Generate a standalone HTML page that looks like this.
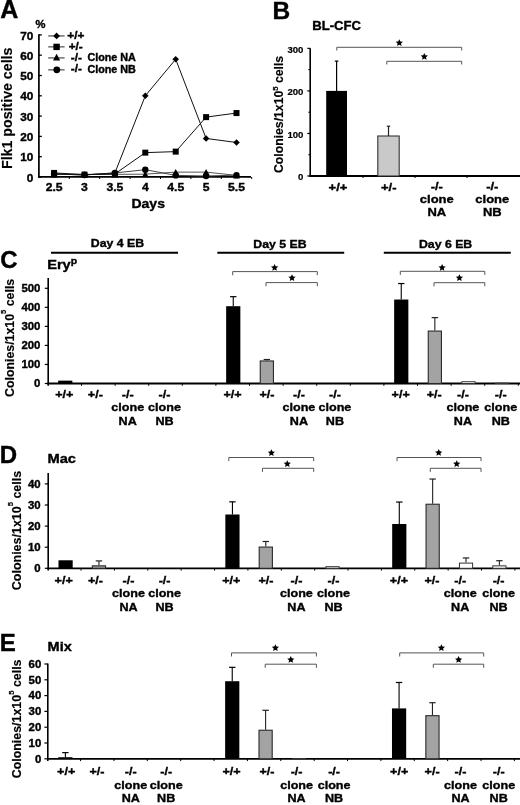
<!DOCTYPE html>
<html><head><meta charset="utf-8"><style>
html,body{margin:0;padding:0;background:#fff;width:520px;height:805px;overflow:hidden}
svg{display:block;filter:grayscale(1)}
text{font-family:"Liberation Sans", sans-serif;stroke:#000;stroke-width:0.4px}
</style></head><body>
<svg width="520" height="805" viewBox="0 0 520 805">
<rect width="520" height="805" fill="#fff"/>
<text transform="translate(0.30,18.00) scale(1.000,1.000)" font-size="25" text-anchor="start" font-weight="bold" fill="#000">A</text>
<text transform="translate(35.60,28.40) scale(1.000,0.980)" font-size="11.2" text-anchor="start" font-weight="bold" fill="#000">%</text>
<line x1="38.90" y1="34.30" x2="38.90" y2="177.80" stroke="#000" stroke-width="1.7"/>
<line x1="38.90" y1="177.00" x2="41.80" y2="177.00" stroke="#000" stroke-width="1.3"/>
<text transform="translate(33.40,181.60) scale(1.000,0.970)" font-size="11.8" text-anchor="end" font-weight="bold" fill="#000">0</text>
<line x1="38.90" y1="156.70" x2="41.80" y2="156.70" stroke="#000" stroke-width="1.3"/>
<text transform="translate(33.40,161.30) scale(1.000,0.970)" font-size="11.8" text-anchor="end" font-weight="bold" fill="#000">10</text>
<line x1="38.90" y1="136.40" x2="41.80" y2="136.40" stroke="#000" stroke-width="1.3"/>
<text transform="translate(33.40,141.00) scale(1.000,0.970)" font-size="11.8" text-anchor="end" font-weight="bold" fill="#000">20</text>
<line x1="38.90" y1="116.10" x2="41.80" y2="116.10" stroke="#000" stroke-width="1.3"/>
<text transform="translate(33.40,120.70) scale(1.000,0.970)" font-size="11.8" text-anchor="end" font-weight="bold" fill="#000">30</text>
<line x1="38.90" y1="95.80" x2="41.80" y2="95.80" stroke="#000" stroke-width="1.3"/>
<text transform="translate(33.40,100.40) scale(1.000,0.970)" font-size="11.8" text-anchor="end" font-weight="bold" fill="#000">40</text>
<line x1="38.90" y1="75.50" x2="41.80" y2="75.50" stroke="#000" stroke-width="1.3"/>
<text transform="translate(33.40,80.10) scale(1.000,0.970)" font-size="11.8" text-anchor="end" font-weight="bold" fill="#000">50</text>
<line x1="38.90" y1="55.20" x2="41.80" y2="55.20" stroke="#000" stroke-width="1.3"/>
<text transform="translate(33.40,59.80) scale(1.000,0.970)" font-size="11.8" text-anchor="end" font-weight="bold" fill="#000">60</text>
<line x1="38.90" y1="34.90" x2="41.80" y2="34.90" stroke="#000" stroke-width="1.3"/>
<text transform="translate(33.40,39.50) scale(1.000,0.970)" font-size="11.8" text-anchor="end" font-weight="bold" fill="#000">70</text>
<line x1="38.00" y1="176.90" x2="251.00" y2="176.90" stroke="#000" stroke-width="1.8"/>
<text transform="translate(54.10,190.60) scale(1.000,0.950)" font-size="12.2" text-anchor="middle" font-weight="bold" fill="#000">2.5</text>
<line x1="69.30" y1="177.00" x2="69.30" y2="179.00" stroke="#000" stroke-width="1"/>
<text transform="translate(84.50,190.60) scale(1.000,0.950)" font-size="12.2" text-anchor="middle" font-weight="bold" fill="#000">3</text>
<line x1="99.70" y1="177.00" x2="99.70" y2="179.00" stroke="#000" stroke-width="1"/>
<text transform="translate(114.90,190.60) scale(1.000,0.950)" font-size="12.2" text-anchor="middle" font-weight="bold" fill="#000">3.5</text>
<line x1="130.10" y1="177.00" x2="130.10" y2="179.00" stroke="#000" stroke-width="1"/>
<text transform="translate(145.30,190.60) scale(1.000,0.950)" font-size="12.2" text-anchor="middle" font-weight="bold" fill="#000">4</text>
<line x1="160.50" y1="177.00" x2="160.50" y2="179.00" stroke="#000" stroke-width="1"/>
<text transform="translate(175.70,190.60) scale(1.000,0.950)" font-size="12.2" text-anchor="middle" font-weight="bold" fill="#000">4.5</text>
<line x1="190.90" y1="177.00" x2="190.90" y2="179.00" stroke="#000" stroke-width="1"/>
<text transform="translate(206.10,190.60) scale(1.000,0.950)" font-size="12.2" text-anchor="middle" font-weight="bold" fill="#000">5</text>
<line x1="221.30" y1="177.00" x2="221.30" y2="179.00" stroke="#000" stroke-width="1"/>
<text transform="translate(236.50,190.60) scale(1.000,0.950)" font-size="12.2" text-anchor="middle" font-weight="bold" fill="#000">5.5</text>
<line x1="251.70" y1="177.00" x2="251.70" y2="179.00" stroke="#000" stroke-width="1"/>
<text transform="translate(148.20,208.20) scale(1.000,0.930)" font-size="14.0" text-anchor="middle" font-weight="bold" fill="#000">Days</text>
<text transform="translate(12.20,108.30) rotate(-90) scale(1.000,1.000)" font-size="14.2" text-anchor="middle" font-weight="bold" style="stroke-width:0.15px">Flk1 positive cells</text>
<polyline points="54.10,174.36 84.50,174.36 114.90,174.36 145.30,174.16 175.70,172.13 206.10,172.13 236.50,175.38" fill="none" stroke="#555" stroke-width="1"/>
<polyline points="54.10,173.96 84.50,174.97 114.90,172.94 145.30,169.69 175.70,175.38 206.10,175.99 236.50,175.17" fill="none" stroke="#444" stroke-width="1"/>
<polyline points="54.10,172.94 84.50,174.56 114.90,173.96 145.30,152.64 175.70,151.62 206.10,117.12 236.50,113.06" fill="none" stroke="#111" stroke-width="1"/>
<polyline points="54.10,173.96 84.50,174.97 114.90,172.94 145.30,95.80 175.70,59.26 206.10,138.43 236.50,142.49" fill="none" stroke="#111" stroke-width="1"/>
<polygon points="54.1,171.261 57.5,177.551 50.7,177.551" fill="#000"/>
<polygon points="84.5,171.261 87.9,177.551 81.1,177.551" fill="#000"/>
<polygon points="114.9,171.261 118.30000000000001,177.551 111.5,177.551" fill="#000"/>
<polygon points="145.29999999999998,171.058 148.7,177.34799999999998 141.89999999999998,177.34799999999998" fill="#000"/>
<polygon points="175.7,169.02800000000002 179.1,175.318 172.29999999999998,175.318" fill="#000"/>
<polygon points="206.1,169.02800000000002 209.5,175.318 202.7,175.318" fill="#000"/>
<polygon points="236.49999999999997,172.276 239.89999999999998,178.566 233.09999999999997,178.566" fill="#000"/>
<circle cx="54.1" cy="173.955" r="3.2" fill="#000"/>
<circle cx="84.5" cy="174.97" r="3.2" fill="#000"/>
<circle cx="114.9" cy="172.94" r="3.2" fill="#000"/>
<circle cx="145.29999999999998" cy="169.692" r="3.2" fill="#000"/>
<circle cx="175.7" cy="175.376" r="3.2" fill="#000"/>
<circle cx="206.1" cy="175.985" r="3.2" fill="#000"/>
<circle cx="236.49999999999997" cy="175.173" r="3.2" fill="#000"/>
<rect x="51.10" y="169.94" width="6.00" height="6.00" fill="#000"/>
<rect x="81.50" y="171.56" width="6.00" height="6.00" fill="#000"/>
<rect x="111.90" y="170.96" width="6.00" height="6.00" fill="#000"/>
<rect x="142.30" y="149.64" width="6.00" height="6.00" fill="#000"/>
<rect x="172.70" y="148.62" width="6.00" height="6.00" fill="#000"/>
<rect x="203.10" y="114.12" width="6.00" height="6.00" fill="#000"/>
<rect x="233.50" y="110.06" width="6.00" height="6.00" fill="#000"/>
<polygon points="54.1,170.655 57.4,173.955 54.1,177.25500000000002 50.800000000000004,173.955" fill="#000"/>
<polygon points="84.5,171.67 87.8,174.97 84.5,178.27 81.2,174.97" fill="#000"/>
<polygon points="114.9,169.64 118.2,172.94 114.9,176.24 111.60000000000001,172.94" fill="#000"/>
<polygon points="145.29999999999998,92.50000000000001 148.6,95.80000000000001 145.29999999999998,99.10000000000001 141.99999999999997,95.80000000000001" fill="#000"/>
<polygon points="175.7,55.96000000000001 179.0,59.260000000000005 175.7,62.56 172.39999999999998,59.260000000000005" fill="#000"/>
<polygon points="206.1,135.13 209.4,138.43 206.1,141.73000000000002 202.79999999999998,138.43" fill="#000"/>
<polygon points="236.49999999999997,139.19 239.79999999999998,142.49 236.49999999999997,145.79000000000002 233.19999999999996,142.49" fill="#000"/>
<line x1="48.20" y1="35.90" x2="64.60" y2="35.90" stroke="#777" stroke-width="1.6"/>
<line x1="48.20" y1="46.80" x2="64.60" y2="46.80" stroke="#777" stroke-width="1.6"/>
<line x1="48.20" y1="57.90" x2="64.60" y2="57.90" stroke="#777" stroke-width="1.6"/>
<line x1="48.20" y1="69.80" x2="64.60" y2="69.80" stroke="#777" stroke-width="1.6"/>
<polygon points="56.6,32.5 60.0,35.9 56.6,39.3 53.2,35.9" fill="#000"/>
<rect x="53.40" y="43.70" width="6.40" height="6.40" fill="#000"/>
<polygon points="56.6,53.8 60.2,60.46 53.0,60.46" fill="#000"/>
<circle cx="56.8" cy="69.8" r="3.4" fill="#000"/>
<text transform="translate(67.30,38.70) scale(1.000,0.950)" font-size="11.8" text-anchor="start" font-weight="bold" fill="#000">+/+</text>
<text transform="translate(68.70,49.60) scale(1.000,0.950)" font-size="11.8" text-anchor="start" font-weight="bold" fill="#000">+/-</text>
<text transform="translate(70.80,61.00) scale(1.000,0.950)" font-size="11.8" text-anchor="start" font-weight="bold" fill="#000">-/-</text>
<text transform="translate(70.80,72.20) scale(1.000,0.950)" font-size="11.8" text-anchor="start" font-weight="bold" fill="#000">-/-</text>
<text transform="translate(87.40,60.70) scale(1.000,0.930)" font-size="10.8" text-anchor="start" font-weight="bold" fill="#000">Clone NA</text>
<text transform="translate(87.40,72.50) scale(1.000,0.930)" font-size="10.8" text-anchor="start" font-weight="bold" fill="#000">Clone NB</text>
<text transform="translate(272.60,18.60) scale(1.000,1.000)" font-size="24.5" text-anchor="start" font-weight="bold" fill="#000">B</text>
<text transform="translate(312.20,29.60) scale(1.000,0.980)" font-size="13.1" text-anchor="start" font-weight="bold" fill="#000">BL-CFC</text>
<line x1="310.20" y1="48.20" x2="310.20" y2="176.80" stroke="#000" stroke-width="1.6"/>
<line x1="307.30" y1="176.00" x2="310.20" y2="176.00" stroke="#000" stroke-width="1.2"/>
<text transform="translate(303.40,180.40) scale(1.000,0.970)" font-size="9.6" text-anchor="end" font-weight="bold" fill="#000" style="stroke-width:0.2px">0</text>
<line x1="307.30" y1="133.45" x2="310.20" y2="133.45" stroke="#000" stroke-width="1.2"/>
<text transform="translate(303.40,137.85) scale(1.000,0.970)" font-size="9.6" text-anchor="end" font-weight="bold" fill="#000" style="stroke-width:0.2px">100</text>
<line x1="307.30" y1="90.90" x2="310.20" y2="90.90" stroke="#000" stroke-width="1.2"/>
<text transform="translate(303.40,95.30) scale(1.000,0.970)" font-size="9.6" text-anchor="end" font-weight="bold" fill="#000" style="stroke-width:0.2px">200</text>
<line x1="307.30" y1="48.35" x2="310.20" y2="48.35" stroke="#000" stroke-width="1.2"/>
<text transform="translate(303.40,52.75) scale(1.000,0.970)" font-size="9.6" text-anchor="end" font-weight="bold" fill="#000" style="stroke-width:0.2px">300</text>
<line x1="308.30" y1="154.72" x2="310.20" y2="154.72" stroke="#000" stroke-width="1.0"/>
<line x1="308.30" y1="112.18" x2="310.20" y2="112.18" stroke="#000" stroke-width="1.0"/>
<line x1="308.30" y1="69.62" x2="310.20" y2="69.62" stroke="#000" stroke-width="1.0"/>
<line x1="309.50" y1="176.00" x2="520.00" y2="176.00" stroke="#000" stroke-width="1.8"/>
<line x1="363.00" y1="176.00" x2="363.00" y2="178.00" stroke="#000" stroke-width="1"/>
<line x1="415.00" y1="176.00" x2="415.00" y2="178.00" stroke="#000" stroke-width="1"/>
<line x1="467.00" y1="176.00" x2="467.00" y2="178.00" stroke="#000" stroke-width="1"/>
<rect x="326.20" y="90.90" width="20.80" height="85.10" fill="#000"/>
<line x1="336.60" y1="61.12" x2="336.60" y2="90.90" stroke="#000" stroke-width="1.2"/>
<line x1="334.80" y1="61.12" x2="338.40" y2="61.12" stroke="#000" stroke-width="1.2"/>
<rect x="377.80" y="136.00" width="21.40" height="40.00" fill="#c9c9c9" stroke="#333" stroke-width="1.1"/>
<line x1="388.50" y1="126.22" x2="388.50" y2="136.00" stroke="#222" stroke-width="1.2"/>
<line x1="386.80" y1="126.22" x2="390.20" y2="126.22" stroke="#222" stroke-width="1.2"/>
<path d="M336.80,50.50 V47.30 H461.70 V50.50" fill="none" stroke="#555" stroke-width="1"/>
<path d="M386.80,64.50 V61.30 H461.70 V64.50" fill="none" stroke="#555" stroke-width="1"/>
<polygon points="399.30,39.20 400.37,41.52 402.91,41.83 401.03,43.56 401.53,46.07 399.30,44.82 397.07,46.07 397.57,43.56 395.69,41.83 398.23,41.52" fill="#000"/>
<polygon points="424.30,52.90 425.37,55.22 427.91,55.53 426.03,57.26 426.53,59.77 424.30,58.52 422.07,59.77 422.57,57.26 420.69,55.53 423.23,55.22" fill="#000"/>
<text transform="translate(338.00,190.80) scale(1.000,0.880)" font-size="13.0" text-anchor="middle" font-weight="bold" fill="#000">+/+</text>
<text transform="translate(388.80,190.80) scale(1.000,0.880)" font-size="13.0" text-anchor="middle" font-weight="bold" fill="#000">+/-</text>
<text transform="translate(436.80,190.30) scale(1.000,0.880)" font-size="13.0" text-anchor="middle" font-weight="bold" fill="#000">-/-</text>
<text transform="translate(436.80,203.00) scale(1.000,0.880)" font-size="13.0" text-anchor="middle" font-weight="bold" fill="#000">clone</text>
<text transform="translate(436.80,215.70) scale(1.000,0.880)" font-size="13.0" text-anchor="middle" font-weight="bold" fill="#000">NA</text>
<text transform="translate(492.30,190.30) scale(1.000,0.880)" font-size="13.0" text-anchor="middle" font-weight="bold" fill="#000">-/-</text>
<text transform="translate(492.30,203.00) scale(1.000,0.880)" font-size="13.0" text-anchor="middle" font-weight="bold" fill="#000">clone</text>
<text transform="translate(492.30,215.70) scale(1.000,0.880)" font-size="13.0" text-anchor="middle" font-weight="bold" fill="#000">NB</text>
<text transform="translate(282.60,114.40) rotate(-90) scale(1.020,1.000)" font-size="12.0" text-anchor="middle" font-weight="bold" style="stroke-width:0.15px">Colonies/1x10<tspan dy="-4.4" font-size="7.6" style="stroke-width:0.2px">5</tspan><tspan dy="4.4"> cells</tspan></text>
<line x1="51.00" y1="252.80" x2="178.00" y2="252.80" stroke="#000" stroke-width="2.0"/>
<line x1="217.30" y1="252.80" x2="344.20" y2="252.80" stroke="#000" stroke-width="2.0"/>
<line x1="383.80" y1="252.80" x2="510.80" y2="252.80" stroke="#000" stroke-width="2.0"/>
<text transform="translate(117.50,247.40) scale(1.000,0.840)" font-size="12.3" text-anchor="middle" font-weight="bold" fill="#000">Day 4 EB</text>
<text transform="translate(280.00,247.90) scale(1.000,0.840)" font-size="12.3" text-anchor="middle" font-weight="bold" fill="#000">Day 5 EB</text>
<text transform="translate(445.60,247.50) scale(1.000,0.840)" font-size="12.3" text-anchor="middle" font-weight="bold" fill="#000">Day 6 EB</text>
<text transform="translate(47.20,269.00) scale(1.000,0.900)" font-size="14.6" text-anchor="start" font-weight="bold" fill="#000">Ery<tspan dy="-5.2" font-size="10.5">p</tspan></text>
<text transform="translate(0.30,268.20) scale(1.000,1.000)" font-size="24" text-anchor="start" font-weight="bold" fill="#000">C</text>

<line x1="48.20" y1="278.00" x2="48.20" y2="385.70" stroke="#000" stroke-width="1.6"/>
<line x1="44.80" y1="383.50" x2="48.20" y2="383.50" stroke="#000" stroke-width="1.2"/>
<text transform="translate(40.40,387.30) scale(1.000,0.930)" font-size="11.4" text-anchor="end" font-weight="bold" fill="#000">0</text>
<line x1="44.80" y1="364.46" x2="48.20" y2="364.46" stroke="#000" stroke-width="1.2"/>
<text transform="translate(40.40,368.26) scale(1.000,0.930)" font-size="11.4" text-anchor="end" font-weight="bold" fill="#000">100</text>
<line x1="44.80" y1="345.42" x2="48.20" y2="345.42" stroke="#000" stroke-width="1.2"/>
<text transform="translate(40.40,349.22) scale(1.000,0.930)" font-size="11.4" text-anchor="end" font-weight="bold" fill="#000">200</text>
<line x1="44.80" y1="326.38" x2="48.20" y2="326.38" stroke="#000" stroke-width="1.2"/>
<text transform="translate(40.40,330.18) scale(1.000,0.930)" font-size="11.4" text-anchor="end" font-weight="bold" fill="#000">300</text>
<line x1="44.80" y1="307.34" x2="48.20" y2="307.34" stroke="#000" stroke-width="1.2"/>
<text transform="translate(40.40,311.14) scale(1.000,0.930)" font-size="11.4" text-anchor="end" font-weight="bold" fill="#000">400</text>
<line x1="44.80" y1="288.30" x2="48.20" y2="288.30" stroke="#000" stroke-width="1.2"/>
<text transform="translate(40.40,292.10) scale(1.000,0.930)" font-size="11.4" text-anchor="end" font-weight="bold" fill="#000">500</text>
<line x1="47.40" y1="383.50" x2="520.00" y2="383.50" stroke="#000" stroke-width="1.8"/>
<line x1="81.50" y1="383.50" x2="81.50" y2="385.80" stroke="#000" stroke-width="1"/>
<line x1="115.10" y1="383.50" x2="115.10" y2="385.80" stroke="#000" stroke-width="1"/>
<line x1="148.70" y1="383.50" x2="148.70" y2="385.80" stroke="#000" stroke-width="1"/>
<line x1="182.30" y1="383.50" x2="182.30" y2="385.80" stroke="#000" stroke-width="1"/>
<line x1="215.90" y1="383.50" x2="215.90" y2="385.80" stroke="#000" stroke-width="1"/>
<line x1="249.50" y1="383.50" x2="249.50" y2="385.80" stroke="#000" stroke-width="1"/>
<line x1="283.10" y1="383.50" x2="283.10" y2="385.80" stroke="#000" stroke-width="1"/>
<line x1="316.70" y1="383.50" x2="316.70" y2="385.80" stroke="#000" stroke-width="1"/>
<line x1="350.30" y1="383.50" x2="350.30" y2="385.80" stroke="#000" stroke-width="1"/>
<line x1="383.90" y1="383.50" x2="383.90" y2="385.80" stroke="#000" stroke-width="1"/>
<line x1="417.50" y1="383.50" x2="417.50" y2="385.80" stroke="#000" stroke-width="1"/>
<line x1="451.10" y1="383.50" x2="451.10" y2="385.80" stroke="#000" stroke-width="1"/>
<line x1="484.70" y1="383.50" x2="484.70" y2="385.80" stroke="#000" stroke-width="1"/>
<line x1="518.30" y1="383.50" x2="518.30" y2="385.80" stroke="#000" stroke-width="1"/>
<rect x="58.15" y="380.64" width="14.20" height="2.86" fill="#000"/>
<line x1="233.25" y1="296.68" x2="233.25" y2="306.20" stroke="#000" stroke-width="1.1"/>
<line x1="230.05" y1="296.68" x2="236.45" y2="296.68" stroke="#000" stroke-width="1.2"/>
<rect x="226.15" y="306.20" width="14.20" height="77.30" fill="#000"/>
<line x1="266.85" y1="359.51" x2="266.85" y2="360.46" stroke="#222" stroke-width="1.1"/>
<line x1="263.65" y1="359.51" x2="270.05" y2="359.51" stroke="#222" stroke-width="1.2"/>
<rect x="260.25" y="360.96" width="13.20" height="22.54" fill="#a3a3a3" stroke="#2a2a2a" stroke-width="1.1"/>
<line x1="401.25" y1="283.54" x2="401.25" y2="299.53" stroke="#000" stroke-width="1.1"/>
<line x1="398.05" y1="283.54" x2="404.45" y2="283.54" stroke="#000" stroke-width="1.2"/>
<rect x="394.15" y="299.53" width="14.20" height="83.97" fill="#000"/>
<line x1="434.85" y1="317.62" x2="434.85" y2="330.57" stroke="#222" stroke-width="1.1"/>
<line x1="431.65" y1="317.62" x2="438.05" y2="317.62" stroke="#222" stroke-width="1.2"/>
<rect x="428.25" y="331.07" width="13.20" height="52.43" fill="#a3a3a3" stroke="#2a2a2a" stroke-width="1.1"/>
<rect x="461.85" y="381.72" width="13.20" height="1.78" fill="#fff" stroke="#333" stroke-width="1.0"/>
<rect x="495.45" y="383.24" width="13.20" height="0.26" fill="#fff" stroke="#333" stroke-width="1.0"/>
<path d="M232.70,275.20 V271.60 H317.30 V275.20" fill="none" stroke="#555" stroke-width="1"/>
<path d="M266.00,286.20 V282.60 H317.30 V286.20" fill="none" stroke="#555" stroke-width="1"/>
<path d="M400.30,274.90 V271.30 H484.80 V274.90" fill="none" stroke="#555" stroke-width="1"/>
<path d="M434.00,286.30 V282.70 H484.80 V286.30" fill="none" stroke="#555" stroke-width="1"/>
<polygon points="274.60,263.90 275.67,266.22 278.21,266.53 276.33,268.26 276.83,270.77 274.60,269.52 272.37,270.77 272.87,268.26 270.99,266.53 273.53,266.22" fill="#000"/>
<polygon points="292.00,274.20 293.07,276.52 295.61,276.83 293.73,278.56 294.23,281.07 292.00,279.82 289.77,281.07 290.27,278.56 288.39,276.83 290.93,276.52" fill="#000"/>
<polygon points="442.10,263.90 443.17,266.22 445.71,266.53 443.83,268.26 444.33,270.77 442.10,269.52 439.87,270.77 440.37,268.26 438.49,266.53 441.03,266.22" fill="#000"/>
<polygon points="459.40,274.20 460.47,276.52 463.01,276.83 461.13,278.56 461.63,281.07 459.40,279.82 457.17,281.07 457.67,278.56 455.79,276.83 458.33,276.52" fill="#000"/>
<text transform="translate(64.30,397.80) scale(1.000,0.880)" font-size="12.6" text-anchor="middle" font-weight="bold" fill="#000">+/+</text>
<text transform="translate(95.30,397.80) scale(1.000,0.880)" font-size="12.6" text-anchor="middle" font-weight="bold" fill="#000">+/-</text>
<text transform="translate(127.70,397.80) scale(1.000,0.880)" font-size="12.6" text-anchor="middle" font-weight="bold" fill="#000">-/-</text>
<text transform="translate(127.70,411.40) scale(1.000,0.880)" font-size="12.6" text-anchor="middle" font-weight="bold" fill="#000">clone</text>
<text transform="translate(127.70,425.00) scale(1.000,0.880)" font-size="12.6" text-anchor="middle" font-weight="bold" fill="#000">NA</text>
<text transform="translate(164.50,397.80) scale(1.000,0.880)" font-size="12.6" text-anchor="middle" font-weight="bold" fill="#000">-/-</text>
<text transform="translate(164.50,411.40) scale(1.000,0.880)" font-size="12.6" text-anchor="middle" font-weight="bold" fill="#000">clone</text>
<text transform="translate(164.50,425.00) scale(1.000,0.880)" font-size="12.6" text-anchor="middle" font-weight="bold" fill="#000">NB</text>
<text transform="translate(232.50,397.80) scale(1.000,0.880)" font-size="12.6" text-anchor="middle" font-weight="bold" fill="#000">+/+</text>
<text transform="translate(267.00,397.80) scale(1.000,0.880)" font-size="12.6" text-anchor="middle" font-weight="bold" fill="#000">+/-</text>
<text transform="translate(298.90,397.80) scale(1.000,0.880)" font-size="12.6" text-anchor="middle" font-weight="bold" fill="#000">-/-</text>
<text transform="translate(298.90,411.40) scale(1.000,0.880)" font-size="12.6" text-anchor="middle" font-weight="bold" fill="#000">clone</text>
<text transform="translate(298.90,425.00) scale(1.000,0.880)" font-size="12.6" text-anchor="middle" font-weight="bold" fill="#000">NA</text>
<text transform="translate(334.90,397.80) scale(1.000,0.880)" font-size="12.6" text-anchor="middle" font-weight="bold" fill="#000">-/-</text>
<text transform="translate(334.90,411.40) scale(1.000,0.880)" font-size="12.6" text-anchor="middle" font-weight="bold" fill="#000">clone</text>
<text transform="translate(334.90,425.00) scale(1.000,0.880)" font-size="12.6" text-anchor="middle" font-weight="bold" fill="#000">NB</text>
<text transform="translate(400.70,397.80) scale(1.000,0.880)" font-size="12.6" text-anchor="middle" font-weight="bold" fill="#000">+/+</text>
<text transform="translate(434.20,397.80) scale(1.000,0.880)" font-size="12.6" text-anchor="middle" font-weight="bold" fill="#000">+/-</text>
<text transform="translate(462.90,397.80) scale(1.000,0.880)" font-size="12.6" text-anchor="middle" font-weight="bold" fill="#000">-/-</text>
<text transform="translate(462.90,411.40) scale(1.000,0.880)" font-size="12.6" text-anchor="middle" font-weight="bold" fill="#000">clone</text>
<text transform="translate(462.90,425.00) scale(1.000,0.880)" font-size="12.6" text-anchor="middle" font-weight="bold" fill="#000">NA</text>
<text transform="translate(500.80,397.80) scale(1.000,0.880)" font-size="12.6" text-anchor="middle" font-weight="bold" fill="#000">-/-</text>
<text transform="translate(500.80,411.40) scale(1.000,0.880)" font-size="12.6" text-anchor="middle" font-weight="bold" fill="#000">clone</text>
<text transform="translate(500.80,425.00) scale(1.000,0.880)" font-size="12.6" text-anchor="middle" font-weight="bold" fill="#000">NB</text>
<text transform="translate(13.80,337.90) rotate(-90) scale(1.030,1.000)" font-size="12.0" text-anchor="middle" font-weight="bold" style="stroke-width:0.15px">Colonies/1x10<tspan dy="-7.6" font-size="7.4" style="stroke-width:0.2px">5</tspan><tspan dy="7.6"> cells</tspan></text>
<text transform="translate(47.40,463.30) scale(1.000,0.920)" font-size="14.7" text-anchor="start" font-weight="bold" fill="#000">Mac</text>
<text transform="translate(-0.30,463.20) scale(1.000,1.000)" font-size="24" text-anchor="start" font-weight="bold" fill="#000">D</text>

<line x1="48.20" y1="472.90" x2="48.20" y2="570.50" stroke="#000" stroke-width="1.6"/>
<line x1="44.80" y1="568.30" x2="48.20" y2="568.30" stroke="#000" stroke-width="1.2"/>
<text transform="translate(40.60,572.10) scale(1.000,0.930)" font-size="11.4" text-anchor="end" font-weight="bold" fill="#000">0</text>
<line x1="44.80" y1="547.20" x2="48.20" y2="547.20" stroke="#000" stroke-width="1.2"/>
<text transform="translate(40.60,551.00) scale(1.000,0.930)" font-size="11.4" text-anchor="end" font-weight="bold" fill="#000">10</text>
<line x1="44.80" y1="526.10" x2="48.20" y2="526.10" stroke="#000" stroke-width="1.2"/>
<text transform="translate(40.60,529.90) scale(1.000,0.930)" font-size="11.4" text-anchor="end" font-weight="bold" fill="#000">20</text>
<line x1="44.80" y1="505.00" x2="48.20" y2="505.00" stroke="#000" stroke-width="1.2"/>
<text transform="translate(40.60,508.80) scale(1.000,0.930)" font-size="11.4" text-anchor="end" font-weight="bold" fill="#000">30</text>
<line x1="44.80" y1="483.90" x2="48.20" y2="483.90" stroke="#000" stroke-width="1.2"/>
<text transform="translate(40.60,487.70) scale(1.000,0.930)" font-size="11.4" text-anchor="end" font-weight="bold" fill="#000">40</text>
<line x1="47.40" y1="568.30" x2="520.00" y2="568.30" stroke="#000" stroke-width="1.8"/>
<line x1="81.07" y1="568.30" x2="81.07" y2="570.60" stroke="#000" stroke-width="1"/>
<line x1="114.44" y1="568.30" x2="114.44" y2="570.60" stroke="#000" stroke-width="1"/>
<line x1="147.81" y1="568.30" x2="147.81" y2="570.60" stroke="#000" stroke-width="1"/>
<line x1="181.18" y1="568.30" x2="181.18" y2="570.60" stroke="#000" stroke-width="1"/>
<line x1="214.55" y1="568.30" x2="214.55" y2="570.60" stroke="#000" stroke-width="1"/>
<line x1="247.92" y1="568.30" x2="247.92" y2="570.60" stroke="#000" stroke-width="1"/>
<line x1="281.29" y1="568.30" x2="281.29" y2="570.60" stroke="#000" stroke-width="1"/>
<line x1="314.66" y1="568.30" x2="314.66" y2="570.60" stroke="#000" stroke-width="1"/>
<line x1="348.03" y1="568.30" x2="348.03" y2="570.60" stroke="#000" stroke-width="1"/>
<line x1="381.40" y1="568.30" x2="381.40" y2="570.60" stroke="#000" stroke-width="1"/>
<line x1="414.77" y1="568.30" x2="414.77" y2="570.60" stroke="#000" stroke-width="1"/>
<line x1="448.14" y1="568.30" x2="448.14" y2="570.60" stroke="#000" stroke-width="1"/>
<line x1="481.51" y1="568.30" x2="481.51" y2="570.60" stroke="#000" stroke-width="1"/>
<line x1="514.88" y1="568.30" x2="514.88" y2="570.60" stroke="#000" stroke-width="1"/>
<rect x="58.49" y="560.28" width="14.20" height="8.02" fill="#000"/>
<line x1="98.95" y1="560.91" x2="98.95" y2="565.35" stroke="#222" stroke-width="1.1"/>
<line x1="95.75" y1="560.91" x2="102.16" y2="560.91" stroke="#222" stroke-width="1.2"/>
<rect x="92.36" y="565.85" width="13.20" height="2.45" fill="#a3a3a3" stroke="#2a2a2a" stroke-width="1.1"/>
<line x1="232.44" y1="501.83" x2="232.44" y2="514.50" stroke="#000" stroke-width="1.1"/>
<line x1="229.24" y1="501.83" x2="235.63" y2="501.83" stroke="#000" stroke-width="1.2"/>
<rect x="225.34" y="514.50" width="14.20" height="53.80" fill="#000"/>
<line x1="265.80" y1="541.50" x2="265.80" y2="546.57" stroke="#222" stroke-width="1.1"/>
<line x1="262.60" y1="541.50" x2="269.00" y2="541.50" stroke="#222" stroke-width="1.2"/>
<rect x="259.20" y="547.07" width="13.20" height="21.23" fill="#a3a3a3" stroke="#2a2a2a" stroke-width="1.1"/>
<rect x="325.94" y="566.69" width="13.20" height="1.61" fill="#fff" stroke="#333" stroke-width="1.0"/>
<line x1="399.28" y1="502.05" x2="399.28" y2="523.99" stroke="#000" stroke-width="1.1"/>
<line x1="396.08" y1="502.05" x2="402.48" y2="502.05" stroke="#000" stroke-width="1.2"/>
<rect x="392.18" y="523.99" width="14.20" height="44.31" fill="#000"/>
<line x1="432.65" y1="479.05" x2="432.65" y2="503.73" stroke="#222" stroke-width="1.1"/>
<line x1="429.45" y1="479.05" x2="435.85" y2="479.05" stroke="#222" stroke-width="1.2"/>
<rect x="426.05" y="504.23" width="13.20" height="64.07" fill="#a3a3a3" stroke="#2a2a2a" stroke-width="1.1"/>
<line x1="466.02" y1="557.96" x2="466.02" y2="562.60" stroke="#222" stroke-width="1.1"/>
<line x1="462.82" y1="557.96" x2="469.22" y2="557.96" stroke="#222" stroke-width="1.2"/>
<rect x="459.42" y="563.10" width="13.20" height="5.20" fill="#fff" stroke="#333" stroke-width="1.0"/>
<line x1="499.39" y1="560.70" x2="499.39" y2="565.35" stroke="#222" stroke-width="1.1"/>
<line x1="496.19" y1="560.70" x2="502.59" y2="560.70" stroke="#222" stroke-width="1.2"/>
<rect x="492.79" y="565.85" width="13.20" height="2.45" fill="#fff" stroke="#333" stroke-width="1.0"/>
<path d="M228.80,461.10 V457.50 H313.70 V461.10" fill="none" stroke="#555" stroke-width="1"/>
<path d="M262.50,471.90 V468.30 H313.70 V471.90" fill="none" stroke="#555" stroke-width="1"/>
<path d="M397.00,461.10 V457.50 H481.00 V461.10" fill="none" stroke="#555" stroke-width="1"/>
<path d="M430.30,471.90 V468.30 H481.00 V471.90" fill="none" stroke="#555" stroke-width="1"/>
<polygon points="271.40,449.20 272.47,451.52 275.01,451.83 273.13,453.56 273.63,456.07 271.40,454.82 269.17,456.07 269.67,453.56 267.79,451.83 270.33,451.52" fill="#000"/>
<polygon points="287.30,460.20 288.37,462.52 290.91,462.83 289.03,464.56 289.53,467.07 287.30,465.82 285.07,467.07 285.57,464.56 283.69,462.83 286.23,462.52" fill="#000"/>
<polygon points="438.70,449.00 439.77,451.32 442.31,451.63 440.43,453.36 440.93,455.87 438.70,454.62 436.47,455.87 436.97,453.36 435.09,451.63 437.63,451.32" fill="#000"/>
<polygon points="456.70,460.20 457.77,462.52 460.31,462.83 458.43,464.56 458.93,467.07 456.70,465.82 454.47,467.07 454.97,464.56 453.09,462.83 455.63,462.52" fill="#000"/>
<text transform="translate(63.70,583.90) scale(1.000,0.880)" font-size="12.6" text-anchor="middle" font-weight="bold" fill="#000">+/+</text>
<text transform="translate(95.40,583.90) scale(1.000,0.880)" font-size="12.6" text-anchor="middle" font-weight="bold" fill="#000">+/-</text>
<text transform="translate(128.50,583.90) scale(1.000,0.880)" font-size="12.6" text-anchor="middle" font-weight="bold" fill="#000">-/-</text>
<text transform="translate(128.50,597.40) scale(1.000,0.880)" font-size="12.6" text-anchor="middle" font-weight="bold" fill="#000">clone</text>
<text transform="translate(128.50,610.90) scale(1.000,0.880)" font-size="12.6" text-anchor="middle" font-weight="bold" fill="#000">NA</text>
<text transform="translate(164.60,583.90) scale(1.000,0.880)" font-size="12.6" text-anchor="middle" font-weight="bold" fill="#000">-/-</text>
<text transform="translate(164.60,597.40) scale(1.000,0.880)" font-size="12.6" text-anchor="middle" font-weight="bold" fill="#000">clone</text>
<text transform="translate(164.60,610.90) scale(1.000,0.880)" font-size="12.6" text-anchor="middle" font-weight="bold" fill="#000">NB</text>
<text transform="translate(231.30,583.90) scale(1.000,0.880)" font-size="12.6" text-anchor="middle" font-weight="bold" fill="#000">+/+</text>
<text transform="translate(265.90,583.90) scale(1.000,0.880)" font-size="12.6" text-anchor="middle" font-weight="bold" fill="#000">+/-</text>
<text transform="translate(296.40,583.90) scale(1.000,0.880)" font-size="12.6" text-anchor="middle" font-weight="bold" fill="#000">-/-</text>
<text transform="translate(296.40,597.40) scale(1.000,0.880)" font-size="12.6" text-anchor="middle" font-weight="bold" fill="#000">clone</text>
<text transform="translate(296.40,610.90) scale(1.000,0.880)" font-size="12.6" text-anchor="middle" font-weight="bold" fill="#000">NA</text>
<text transform="translate(333.50,583.90) scale(1.000,0.880)" font-size="12.6" text-anchor="middle" font-weight="bold" fill="#000">-/-</text>
<text transform="translate(333.50,597.40) scale(1.000,0.880)" font-size="12.6" text-anchor="middle" font-weight="bold" fill="#000">clone</text>
<text transform="translate(333.50,610.90) scale(1.000,0.880)" font-size="12.6" text-anchor="middle" font-weight="bold" fill="#000">NB</text>
<text transform="translate(398.90,583.90) scale(1.000,0.880)" font-size="12.6" text-anchor="middle" font-weight="bold" fill="#000">+/+</text>
<text transform="translate(431.90,583.90) scale(1.000,0.880)" font-size="12.6" text-anchor="middle" font-weight="bold" fill="#000">+/-</text>
<text transform="translate(460.20,583.90) scale(1.000,0.880)" font-size="12.6" text-anchor="middle" font-weight="bold" fill="#000">-/-</text>
<text transform="translate(460.20,597.40) scale(1.000,0.880)" font-size="12.6" text-anchor="middle" font-weight="bold" fill="#000">clone</text>
<text transform="translate(460.20,610.90) scale(1.000,0.880)" font-size="12.6" text-anchor="middle" font-weight="bold" fill="#000">NA</text>
<text transform="translate(498.60,583.90) scale(1.000,0.880)" font-size="12.6" text-anchor="middle" font-weight="bold" fill="#000">-/-</text>
<text transform="translate(498.60,597.40) scale(1.000,0.880)" font-size="12.6" text-anchor="middle" font-weight="bold" fill="#000">clone</text>
<text transform="translate(498.60,610.90) scale(1.000,0.880)" font-size="12.6" text-anchor="middle" font-weight="bold" fill="#000">NB</text>
<text transform="translate(21.00,530.50) rotate(-90) scale(1.040,1.000)" font-size="12.0" text-anchor="middle" font-weight="bold" style="stroke-width:0.15px">Colonies/1x10<tspan dy="-7.6" font-size="7.4" style="stroke-width:0.2px">5</tspan><tspan dy="7.6"> cells</tspan></text>
<text transform="translate(47.60,651.40) scale(1.000,0.920)" font-size="14.5" text-anchor="start" font-weight="bold" fill="#000">Mix</text>
<text transform="translate(-0.30,650.90) scale(1.000,1.000)" font-size="24" text-anchor="start" font-weight="bold" fill="#000">E</text>

<line x1="47.80" y1="663.40" x2="47.80" y2="761.00" stroke="#000" stroke-width="1.6"/>
<line x1="44.40" y1="758.80" x2="47.80" y2="758.80" stroke="#000" stroke-width="1.2"/>
<text transform="translate(41.30,762.60) scale(1.000,0.930)" font-size="11.4" text-anchor="end" font-weight="bold" fill="#000">0</text>
<line x1="44.40" y1="743.00" x2="47.80" y2="743.00" stroke="#000" stroke-width="1.2"/>
<text transform="translate(41.30,746.80) scale(1.000,0.930)" font-size="11.4" text-anchor="end" font-weight="bold" fill="#000">10</text>
<line x1="44.40" y1="727.20" x2="47.80" y2="727.20" stroke="#000" stroke-width="1.2"/>
<text transform="translate(41.30,731.00) scale(1.000,0.930)" font-size="11.4" text-anchor="end" font-weight="bold" fill="#000">20</text>
<line x1="44.40" y1="711.40" x2="47.80" y2="711.40" stroke="#000" stroke-width="1.2"/>
<text transform="translate(41.30,715.20) scale(1.000,0.930)" font-size="11.4" text-anchor="end" font-weight="bold" fill="#000">30</text>
<line x1="44.40" y1="695.60" x2="47.80" y2="695.60" stroke="#000" stroke-width="1.2"/>
<text transform="translate(41.30,699.40) scale(1.000,0.930)" font-size="11.4" text-anchor="end" font-weight="bold" fill="#000">40</text>
<line x1="44.40" y1="679.80" x2="47.80" y2="679.80" stroke="#000" stroke-width="1.2"/>
<text transform="translate(41.30,683.60) scale(1.000,0.930)" font-size="11.4" text-anchor="end" font-weight="bold" fill="#000">50</text>
<line x1="44.40" y1="664.00" x2="47.80" y2="664.00" stroke="#000" stroke-width="1.2"/>
<text transform="translate(41.30,667.80) scale(1.000,0.930)" font-size="11.4" text-anchor="end" font-weight="bold" fill="#000">60</text>
<line x1="47.00" y1="758.80" x2="520.00" y2="758.80" stroke="#000" stroke-width="1.8"/>
<line x1="80.57" y1="758.80" x2="80.57" y2="761.10" stroke="#000" stroke-width="1"/>
<line x1="113.94" y1="758.80" x2="113.94" y2="761.10" stroke="#000" stroke-width="1"/>
<line x1="147.31" y1="758.80" x2="147.31" y2="761.10" stroke="#000" stroke-width="1"/>
<line x1="180.68" y1="758.80" x2="180.68" y2="761.10" stroke="#000" stroke-width="1"/>
<line x1="214.05" y1="758.80" x2="214.05" y2="761.10" stroke="#000" stroke-width="1"/>
<line x1="247.42" y1="758.80" x2="247.42" y2="761.10" stroke="#000" stroke-width="1"/>
<line x1="280.79" y1="758.80" x2="280.79" y2="761.10" stroke="#000" stroke-width="1"/>
<line x1="314.16" y1="758.80" x2="314.16" y2="761.10" stroke="#000" stroke-width="1"/>
<line x1="347.53" y1="758.80" x2="347.53" y2="761.10" stroke="#000" stroke-width="1"/>
<line x1="380.90" y1="758.80" x2="380.90" y2="761.10" stroke="#000" stroke-width="1"/>
<line x1="414.27" y1="758.80" x2="414.27" y2="761.10" stroke="#000" stroke-width="1"/>
<line x1="447.64" y1="758.80" x2="447.64" y2="761.10" stroke="#000" stroke-width="1"/>
<line x1="481.01" y1="758.80" x2="481.01" y2="761.10" stroke="#000" stroke-width="1"/>
<line x1="514.38" y1="758.80" x2="514.38" y2="761.10" stroke="#000" stroke-width="1"/>
<line x1="65.39" y1="752.64" x2="65.39" y2="757.22" stroke="#000" stroke-width="1.1"/>
<line x1="62.19" y1="752.64" x2="68.59" y2="752.64" stroke="#000" stroke-width="1.2"/>
<rect x="58.29" y="757.22" width="14.20" height="1.58" fill="#000"/>
<line x1="232.24" y1="667.32" x2="232.24" y2="681.22" stroke="#000" stroke-width="1.1"/>
<line x1="229.04" y1="667.32" x2="235.44" y2="667.32" stroke="#000" stroke-width="1.2"/>
<rect x="225.14" y="681.22" width="14.20" height="77.58" fill="#000"/>
<line x1="265.60" y1="710.29" x2="265.60" y2="729.73" stroke="#222" stroke-width="1.1"/>
<line x1="262.40" y1="710.29" x2="268.80" y2="710.29" stroke="#222" stroke-width="1.2"/>
<rect x="259.00" y="730.23" width="13.20" height="28.57" fill="#a3a3a3" stroke="#2a2a2a" stroke-width="1.1"/>
<rect x="292.37" y="758.51" width="13.20" height="0.29" fill="#fff" stroke="#333" stroke-width="1.0"/>
<line x1="399.08" y1="682.49" x2="399.08" y2="708.40" stroke="#000" stroke-width="1.1"/>
<line x1="395.88" y1="682.49" x2="402.28" y2="682.49" stroke="#000" stroke-width="1.2"/>
<rect x="391.98" y="708.40" width="14.20" height="50.40" fill="#000"/>
<line x1="432.45" y1="702.71" x2="432.45" y2="715.19" stroke="#222" stroke-width="1.1"/>
<line x1="429.25" y1="702.71" x2="435.65" y2="702.71" stroke="#222" stroke-width="1.2"/>
<rect x="425.85" y="715.69" width="13.20" height="43.11" fill="#a3a3a3" stroke="#2a2a2a" stroke-width="1.1"/>
<path d="M231.50,656.50 V652.90 H316.40 V656.50" fill="none" stroke="#555" stroke-width="1"/>
<path d="M265.20,667.80 V664.20 H316.40 V667.80" fill="none" stroke="#555" stroke-width="1"/>
<path d="M399.70,656.50 V652.90 H483.70 V656.50" fill="none" stroke="#555" stroke-width="1"/>
<path d="M433.30,667.80 V664.20 H483.70 V667.80" fill="none" stroke="#555" stroke-width="1"/>
<polygon points="275.40,644.20 276.47,646.52 279.01,646.83 277.13,648.56 277.63,651.07 275.40,649.82 273.17,651.07 273.67,648.56 271.79,646.83 274.33,646.52" fill="#000"/>
<polygon points="290.80,656.00 291.87,658.32 294.41,658.63 292.53,660.36 293.03,662.87 290.80,661.62 288.57,662.87 289.07,660.36 287.19,658.63 289.73,658.32" fill="#000"/>
<polygon points="441.40,644.20 442.47,646.52 445.01,646.83 443.13,648.56 443.63,651.07 441.40,649.82 439.17,651.07 439.67,648.56 437.79,646.83 440.33,646.52" fill="#000"/>
<polygon points="458.60,656.00 459.67,658.32 462.21,658.63 460.33,660.36 460.83,662.87 458.60,661.62 456.37,662.87 456.87,660.36 454.99,658.63 457.53,658.32" fill="#000"/>
<text transform="translate(66.20,775.40) scale(1.000,0.880)" font-size="12.6" text-anchor="middle" font-weight="bold" fill="#000">+/+</text>
<text transform="translate(96.90,775.40) scale(1.000,0.880)" font-size="12.6" text-anchor="middle" font-weight="bold" fill="#000">+/-</text>
<text transform="translate(130.80,775.40) scale(1.000,0.880)" font-size="12.6" text-anchor="middle" font-weight="bold" fill="#000">-/-</text>
<text transform="translate(130.80,788.50) scale(1.000,0.880)" font-size="12.6" text-anchor="middle" font-weight="bold" fill="#000">clone</text>
<text transform="translate(130.80,801.60) scale(1.000,0.880)" font-size="12.6" text-anchor="middle" font-weight="bold" fill="#000">NA</text>
<text transform="translate(166.20,775.40) scale(1.000,0.880)" font-size="12.6" text-anchor="middle" font-weight="bold" fill="#000">-/-</text>
<text transform="translate(166.20,788.50) scale(1.000,0.880)" font-size="12.6" text-anchor="middle" font-weight="bold" fill="#000">clone</text>
<text transform="translate(166.20,801.60) scale(1.000,0.880)" font-size="12.6" text-anchor="middle" font-weight="bold" fill="#000">NB</text>
<text transform="translate(231.60,775.40) scale(1.000,0.880)" font-size="12.6" text-anchor="middle" font-weight="bold" fill="#000">+/+</text>
<text transform="translate(267.00,775.40) scale(1.000,0.880)" font-size="12.6" text-anchor="middle" font-weight="bold" fill="#000">+/-</text>
<text transform="translate(296.60,775.40) scale(1.000,0.880)" font-size="12.6" text-anchor="middle" font-weight="bold" fill="#000">-/-</text>
<text transform="translate(296.60,788.50) scale(1.000,0.880)" font-size="12.6" text-anchor="middle" font-weight="bold" fill="#000">clone</text>
<text transform="translate(296.60,801.60) scale(1.000,0.880)" font-size="12.6" text-anchor="middle" font-weight="bold" fill="#000">NA</text>
<text transform="translate(334.10,775.40) scale(1.000,0.880)" font-size="12.6" text-anchor="middle" font-weight="bold" fill="#000">-/-</text>
<text transform="translate(334.10,788.50) scale(1.000,0.880)" font-size="12.6" text-anchor="middle" font-weight="bold" fill="#000">clone</text>
<text transform="translate(334.10,801.60) scale(1.000,0.880)" font-size="12.6" text-anchor="middle" font-weight="bold" fill="#000">NB</text>
<text transform="translate(399.20,775.40) scale(1.000,0.880)" font-size="12.6" text-anchor="middle" font-weight="bold" fill="#000">+/+</text>
<text transform="translate(432.10,775.40) scale(1.000,0.880)" font-size="12.6" text-anchor="middle" font-weight="bold" fill="#000">+/-</text>
<text transform="translate(460.50,775.40) scale(1.000,0.880)" font-size="12.6" text-anchor="middle" font-weight="bold" fill="#000">-/-</text>
<text transform="translate(460.50,788.50) scale(1.000,0.880)" font-size="12.6" text-anchor="middle" font-weight="bold" fill="#000">clone</text>
<text transform="translate(460.50,801.60) scale(1.000,0.880)" font-size="12.6" text-anchor="middle" font-weight="bold" fill="#000">NA</text>
<text transform="translate(498.70,775.40) scale(1.000,0.880)" font-size="12.6" text-anchor="middle" font-weight="bold" fill="#000">-/-</text>
<text transform="translate(498.70,788.50) scale(1.000,0.880)" font-size="12.6" text-anchor="middle" font-weight="bold" fill="#000">clone</text>
<text transform="translate(498.70,801.60) scale(1.000,0.880)" font-size="12.6" text-anchor="middle" font-weight="bold" fill="#000">NB</text>
<text transform="translate(21.30,718.90) rotate(-90) scale(1.035,1.000)" font-size="12.0" text-anchor="middle" font-weight="bold" style="stroke-width:0.15px">Colonies/1x10<tspan dy="-7.6" font-size="7.4" style="stroke-width:0.2px">5</tspan><tspan dy="7.6"> cells</tspan></text>
</svg>
</body></html>
